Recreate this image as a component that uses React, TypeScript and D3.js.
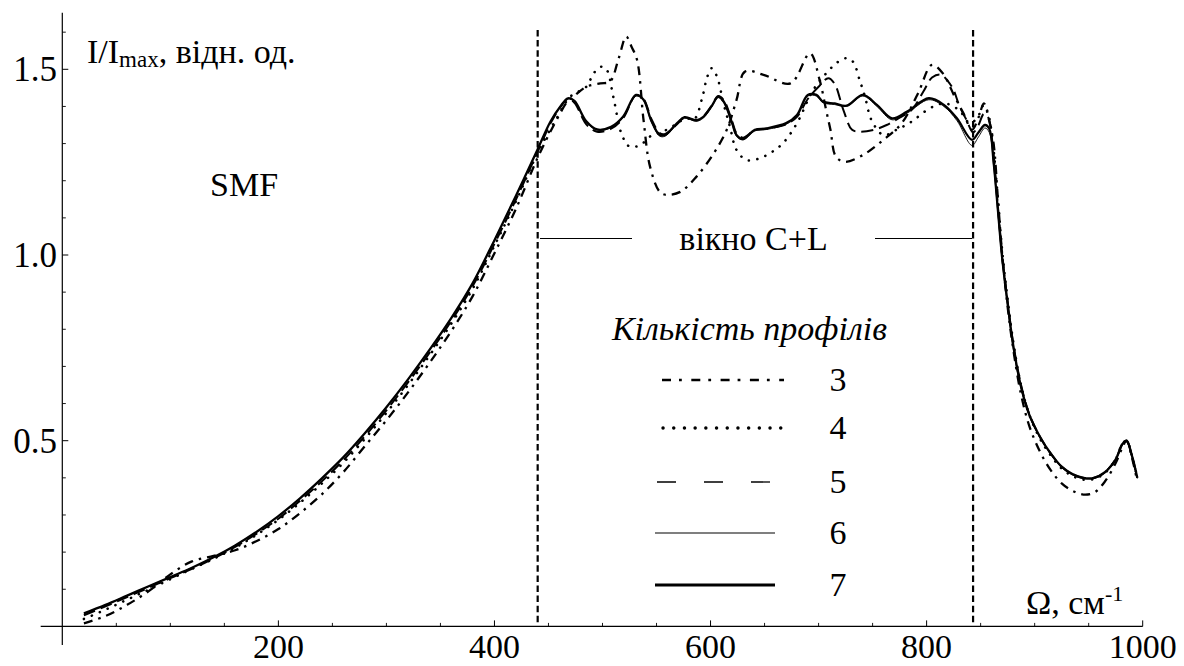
import React from "react";
import * as d3 from "d3";

// ---- axis ticks ----
const xMajorTicks = [200, 400, 600, 800, 1000];
const xMinorTicks = [50, 100, 150, 250, 300, 350, 450, 500, 550, 650, 700, 750, 850, 900, 950];
const yMajorTicks = [0.5, 1.0, 1.5];
const yMinorTicks = [0.1, 0.2, 0.3, 0.4, 0.6, 0.7, 0.8, 0.9, 1.1, 1.2, 1.3, 1.4, 1.6];
const windowBounds = [440, 843];

// ---- series 7 (thick solid) ----
const omega7 = [20,40,60,80,100,120,140,160,180,200,220,240,260,280,300,320,340,360,380,400,420,440,452,461,468,474,485,495,508,519,531,538,545,553,558,569,576,587,593,601,607,612,620,624,630,641,652,670,680,690,698,704,715,726,741,754,768,782,802,816,828,842,848,854,858,862,866,870,875,880,887,895,905,915,925,935,945,955,965,975,981,985,990,995];
const val7 = [0.035,0.058,0.083,0.108,0.133,0.158,0.186,0.218,0.255,0.297,0.345,0.398,0.455,0.52,0.59,0.665,0.745,0.83,0.925,1.04,1.16,1.285,1.36,1.40,1.422,1.415,1.36,1.338,1.345,1.372,1.431,1.418,1.363,1.323,1.323,1.355,1.371,1.363,1.371,1.401,1.426,1.414,1.355,1.323,1.312,1.337,1.341,1.355,1.377,1.431,1.431,1.413,1.408,1.402,1.431,1.404,1.368,1.386,1.422,1.404,1.368,1.31,1.33,1.35,1.34,1.25,1.12,0.99,0.87,0.76,0.65,0.57,0.51,0.465,0.43,0.41,0.40,0.40,0.415,0.45,0.49,0.50,0.46,0.40];

// ---- series 6 (thin solid) ----
const omega6 = [20,40,60,80,100,120,140,160,180,200,220,240,260,280,300,320,340,360,380,400,420,440,452,461,468,474,485,495,508,519,531,538,545,553,558,569,576,587,593,601,607,612,620,624,630,641,652,670,680,690,698,704,715,726,741,754,768,782,802,816,828,842,848,854,858,862,866,870,875,880,887,895,905,915,925,935,945,955,965,975,981,985,990,995];
const val6 = [0.035,0.058,0.083,0.108,0.133,0.158,0.186,0.218,0.255,0.297,0.345,0.398,0.455,0.52,0.59,0.665,0.745,0.83,0.925,1.04,1.16,1.285,1.36,1.40,1.42,1.413,1.358,1.336,1.343,1.37,1.428,1.416,1.36,1.32,1.32,1.352,1.368,1.36,1.368,1.398,1.424,1.412,1.352,1.32,1.31,1.334,1.338,1.352,1.374,1.428,1.428,1.41,1.405,1.4,1.428,1.4,1.364,1.382,1.418,1.4,1.362,1.295,1.318,1.342,1.33,1.24,1.11,0.98,0.86,0.75,0.645,0.567,0.508,0.463,0.428,0.408,0.398,0.398,0.413,0.448,0.487,0.497,0.457,0.398];

// ---- series 5 (dashed) ----
const omega5 = [20,40,60,80,100,120,140,160,180,200,220,240,260,280,300,320,340,360,380,400,420,440,452,461,468,474,485,495,508,519,531,538,545,553,558,569,576,587,593,601,607,612,620,624,630,641,652,670,680,690,700,709,715,723,731,738,751,763,775,786,797,805,813,820,825,830,837,843,848,853,857,861,866,870,875,880,887,895,905,915,925,935,945,955,965,975,981,985,990,995];
const val5 = [0.03,0.054,0.079,0.104,0.13,0.155,0.183,0.214,0.25,0.29,0.338,0.39,0.447,0.512,0.582,0.657,0.737,0.822,0.917,1.03,1.15,1.278,1.355,1.398,1.42,1.41,1.352,1.332,1.34,1.368,1.43,1.42,1.368,1.328,1.326,1.352,1.37,1.362,1.372,1.402,1.428,1.418,1.36,1.328,1.316,1.336,1.34,1.352,1.372,1.42,1.453,1.476,1.46,1.39,1.337,1.332,1.337,1.35,1.37,1.39,1.44,1.478,1.486,1.467,1.444,1.404,1.363,1.33,1.35,1.38,1.37,1.3,1.13,1.0,0.875,0.765,0.655,0.572,0.51,0.465,0.43,0.41,0.40,0.40,0.415,0.45,0.49,0.50,0.46,0.40];

// ---- series 4 (dotted) ----
const omega4 = [20,40,60,80,100,120,140,160,180,200,220,240,260,280,300,320,340,360,380,400,420,440,458,470,485,492,499,504,510,518,525,535,544,553,560,570,577,585,592,597,601,606,612,618,624,633,643,655,667,680,695,707,718,726,732,738,743,749,760,772,786,803,817,830,840,847,853,857,861,866,870,875,880,887,895,905,915,925,935,945,955,965,975,981,985,990,995];
const val4 = [0.02,0.045,0.072,0.099,0.127,0.155,0.182,0.212,0.247,0.287,0.333,0.384,0.44,0.505,0.575,0.65,0.73,0.815,0.91,1.025,1.145,1.275,1.37,1.426,1.453,1.49,1.507,1.498,1.426,1.323,1.292,1.296,1.319,1.33,1.338,1.356,1.368,1.366,1.42,1.48,1.503,1.48,1.408,1.345,1.283,1.256,1.258,1.274,1.301,1.355,1.444,1.489,1.52,1.53,1.52,1.471,1.426,1.363,1.323,1.337,1.359,1.395,1.408,1.39,1.355,1.37,1.404,1.38,1.31,1.15,1.01,0.88,0.77,0.655,0.57,0.505,0.46,0.425,0.405,0.395,0.397,0.413,0.45,0.49,0.50,0.46,0.40];

// ---- series 3 (dash-dot) ----
const omega3 = [20,40,60,80,100,120,140,160,180,200,220,240,260,280,300,320,340,360,380,400,420,440,455,468,473,485,498,507,515,522,527,532,538,544,553,559,572,587,603,615,624,632,649,674,692,701,707,711,716,724,741,760,777,792,805,815,826,834,842,848,853,858,862,866,870,875,880,887,895,905,915,925,935,945,955,965,975,981,985,990,995];
const val3 = [0.008,0.028,0.058,0.095,0.14,0.175,0.19,0.205,0.23,0.262,0.305,0.355,0.415,0.485,0.555,0.63,0.71,0.795,0.89,1.005,1.125,1.262,1.35,1.415,1.426,1.453,1.462,1.467,1.53,1.588,1.56,1.525,1.363,1.238,1.17,1.162,1.17,1.211,1.274,1.337,1.417,1.494,1.485,1.462,1.543,1.471,1.39,1.337,1.265,1.251,1.269,1.31,1.355,1.435,1.512,1.489,1.426,1.382,1.337,1.37,1.408,1.36,1.30,1.15,1.0,0.86,0.75,0.63,0.54,0.47,0.42,0.385,0.365,0.355,0.36,0.39,0.44,0.48,0.50,0.455,0.39];

const legendLabels = ["3", "4", "5", "6", "7"];

const W = 1184;
const H = 666;
const FONT = "Liberation Serif";

export default function App() {
  const x = d3.scaleLinear().domain([0, 1000]).range([62.3, 1142.7]);
  const y = d3.scaleLinear().domain([0, 1.5]).range([626.4, 69.3]);

  const line = d3
    .line<[number, number]>()
    .x((d) => x(d[0]))
    .y((d) => y(d[1]))
    .curve(d3.curveCatmullRom.alpha(0.5));

  const zip = (a: number[], b: number[]) => a.map((v, i) => [v, b[i]] as [number, number]);

  const series = [
    { d: zip(omega4, val4), w: 2.6, dash: "0.1,8.5", cap: "round" },
    { d: zip(omega3, val3), w: 2.3, dash: "9,6,2.5,6", cap: "butt" },
    { d: zip(omega5, val5), w: 2.0, dash: "12,6", cap: "butt" },
    { d: zip(omega6, val6), w: 0.9, dash: "none", cap: "butt" },
    { d: zip(omega7, val7), w: 2.3, dash: "none", cap: "butt" },
  ];

  const legendStyles = [
    { w: 2.6, dash: "9,8,2.8,9.5", cap: "butt", x1: 662, x2: 784 },
    { w: 3.4, dash: "0.1,10.6", cap: "round", x1: 663, x2: 783 },
    { w: 1.3, dash: "19,28", cap: "butt", x1: 657, x2: 776 },
    { w: 1.2, dash: "none", cap: "butt", x1: 655, x2: 775 },
    { w: 2.9, dash: "none", cap: "butt", x1: 655, x2: 775 },
  ];
  const legendY = [380, 428, 482, 533, 585];

  const xAxisY = y(0);
  const yAxisX = x(0);

  return (
    <svg
      width={W}
      height={H}
      style={{ position: "absolute", left: 0, top: 0, background: "#fff", fontFamily: "'Liberation Serif', 'Times New Roman', serif" }}
    >
      <rect x={0} y={0} width={W} height={H} fill="#fff" />

      {/* axes */}
      <line x1={x(-20)} x2={x(1000)} y1={xAxisY} y2={xAxisY} stroke="#000" strokeWidth={1.2} />
      <line x1={yAxisX} x2={yAxisX} y1={y(-0.05)} y2={y(1.652)} stroke="#000" strokeWidth={1.2} />
      {xMajorTicks.map((t) => (
        <g key={"xM" + t}>
          <line x1={x(t)} x2={x(t)} y1={xAxisY} y2={xAxisY - 6} stroke="#000" strokeWidth={1} />
          <text x={x(t)} y={658} textAnchor="middle" fontSize={34} fontFamily={FONT}>
            {t}
          </text>
        </g>
      ))}
      {xMinorTicks.map((t) => (
        <line key={"xm" + t} x1={x(t)} x2={x(t)} y1={xAxisY} y2={xAxisY - 3.5} stroke="#000" strokeWidth={0.9} />
      ))}
      {yMajorTicks.map((t) => (
        <g key={"yM" + t}>
          <line x1={yAxisX} x2={yAxisX + 6} y1={y(t)} y2={y(t)} stroke="#000" strokeWidth={1} />
          <text x={57} y={y(t) + 12} textAnchor="end" fontSize={35} fontFamily={FONT}>
            {t.toFixed(1)}
          </text>
        </g>
      ))}
      {yMinorTicks.map((t) => (
        <line key={"ym" + t} x1={yAxisX} x2={yAxisX + 3.5} y1={y(t)} y2={y(t)} stroke="#000" strokeWidth={0.9} />
      ))}

      {/* window boundaries */}
      {windowBounds.map((b) => (
        <line key={"wb" + b} x1={x(b)} x2={x(b)} y1={30} y2={xAxisY} stroke="#000" strokeWidth={2.2} strokeDasharray="6.5,3.6" />
      ))}

      {/* curves */}
      {series.map((s, i) => (
        <path
          key={"s" + i}
          d={line(s.d) || ""}
          fill="none"
          stroke="#000"
          strokeWidth={s.w}
          strokeDasharray={s.dash}
          strokeLinecap={s.cap as any}
          strokeLinejoin="round"
        />
      ))}

      {/* labels */}
      <text x={87} y={63} fontSize={34} fontFamily={FONT}>
        I/I<tspan fontSize={23} dy={4}>max</tspan>
        <tspan dy={-4}>, відн. од.</tspan>
      </text>
      <text x={210} y={196} fontSize={34} fontFamily={FONT}>SMF</text>

      <line x1={540} x2={632} y1={238.5} y2={238.5} stroke="#000" strokeWidth={1} />
      <line x1={875} x2={972} y1={238.5} y2={238.5} stroke="#000" strokeWidth={1} />
      <text x={753.5} y={250} textAnchor="middle" fontSize={34} fontFamily={FONT}>вікно C+L</text>

      <text x={1026} y={614} fontSize={34} fontFamily={FONT}>
        Ω, см<tspan fontSize={22} dy={-13}>-1</tspan>
      </text>

      {/* legend */}
      <text x={612} y={340} fontSize={34} fontStyle="italic" fontFamily={FONT}>Кількість профілів</text>
      {legendLabels.map((lab, i) => (
        <g key={"lg" + lab}>
          <line
            x1={legendStyles[i].x1}
            x2={legendStyles[i].x2}
            y1={legendY[i]}
            y2={legendY[i]}
            stroke="#000"
            strokeWidth={legendStyles[i].w}
            strokeDasharray={legendStyles[i].dash}
            strokeLinecap={legendStyles[i].cap as any}
          />
          <text x={838} y={legendY[i] + 11} textAnchor="middle" fontSize={34} fontFamily={FONT}>
            {lab}
          </text>
        </g>
      ))}
    </svg>
  );
}
